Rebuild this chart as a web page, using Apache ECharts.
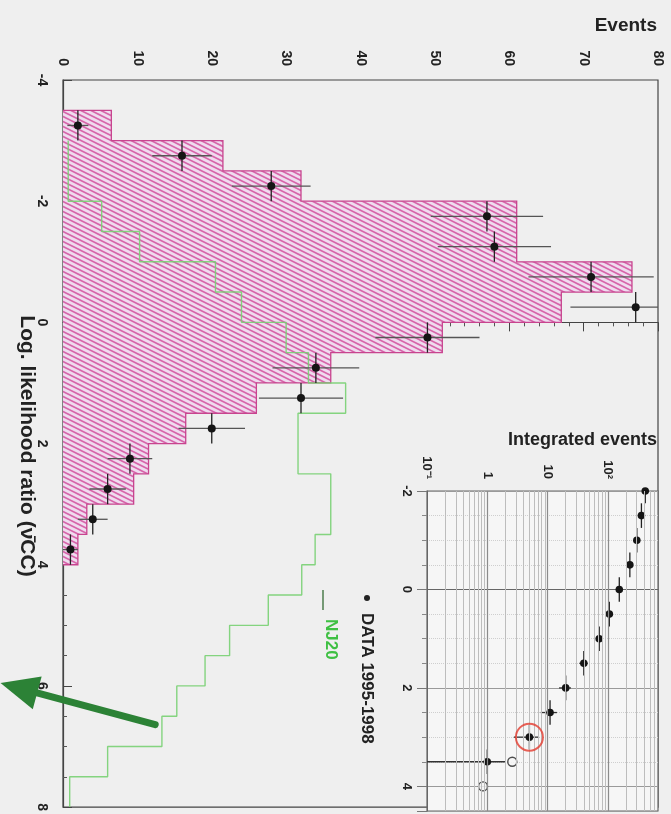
<!DOCTYPE html>
<html>
<head>
<meta charset="utf-8">
<script src="https://cdn.jsdelivr.net/npm/echarts@6/dist/echarts.min.js"></script>
<style>
  html, body { margin: 0; padding: 0; background: #efefef; }
  #chart { width: 671px; height: 814px; }
</style>
</head>
<body>
<div id="chart"></div>
<script>
// ---- histogram data (log-likelihood-ratio bins, width 0.5) ----
const BIN = 0.5;
const lrCentres   = [-3.25, -2.75, -2.25, -1.75, -1.25, -0.75, -0.25, 0.25, 0.75, 1.25, 1.75, 2.25, 2.75, 3.25, 3.75];
const dataEvents  = [2, 16, 28, 57, 58, 71, 77, 49, 34, 32, 20, 9, 6, 4, 1];
const ccPredicted = [6.5, 21.5, 32, 61, 61, 76.5, 67, 51, 36, 26, 16.5, 11.5, 9.5, 3.2, 2.0];

// NJ20 prediction, its own bins from -3 to 8
const nj20Centres = [-2.75, -2.25, -1.75, -1.25, -0.75, -0.25, 0.25, 0.75, 1.25, 1.75, 2.25,
                     2.75, 3.25, 3.75, 4.25, 4.75, 5.25, 5.75, 6.25, 6.75, 7.25, 7.75];
const nj20Events  = [0.7, 0.7, 5.2, 10.3, 20.5, 24, 30, 33, 38, 31.6, 31.6,
                     36, 36, 33.9, 32.1, 27.6, 22.4, 19.1, 15.3, 13.3, 6.0, 0.9];

// ---- integrated events (inset) ----
const cutValues        = [-2, -1.5, -1, -0.5, 0, 0.5, 1, 1.5, 2, 2.5, 3, 3.5];
const integratedEvents = [418, 361, 303, 232, 155, 106, 72, 40, 20, 11, 5, 1];
const openCuts         = [3.5, 4];
const openValues       = [2.6, 0.85];
const circledCut       = 3;

// ---- axis ticks ----
const eventTicks    = [0, 10, 20, 30, 40, 50, 60, 70, 80];
const lrTicks       = [-4, -2, 0, 2, 4, 6, 8];
const insetLrTicks  = [-2, 0, 2, 4];
const insetDecades  = { '-1': '10⁻¹', '0': '1', '1': '10', '2': '10²' };
const insetMaxEvents = 680;

// annotation arrow, in (events, log-likelihood) coordinates
const arrowTail = [12.4, 6.64];
const arrowTip  = [-8.4, 5.95];

const FONT = "'Liberation Sans', Arial, sans-serif";
const EV_MAX = eventTicks[eventTicks.length - 1];

// diagonal hatch used for the CC prediction
const hatch = (() => {
  const c = document.createElement('canvas');
  c.width = 20; c.height = 10;
  const g = c.getContext('2d');
  g.fillStyle = '#efdcef';
  g.fillRect(0, 0, 20, 10);
  g.strokeStyle = '#d765aa';
  g.lineWidth = 1.6;
  for (let k = -4; k <= 4; k++) {
    g.beginPath();
    g.moveTo(-20, -10 + k * 5);
    g.lineTo(40, 20 + k * 5);
    g.stroke();
  }
  return c;
})();

// step outline for the NJ20 curve
const nj20Line = [];
nj20Centres.forEach((c, i) => {
  nj20Line.push([nj20Events[i], c - BIN / 2]);
  nj20Line.push([nj20Events[i], c + BIN / 2]);
});

// vertical grid lines of the logarithmic inset axis
const insetGridX = [];
for (let k = -1; k <= 2; k++) {
  for (let m = 1; m <= 9; m++) {
    const v = m * Math.pow(10, k);
    if (v > 0.1 && v < insetMaxEvents) insetGridX.push({ xAxis: v, major: m === 1 });
  }
}

const axisText = { color: '#222', fontFamily: FONT, fontWeight: 'bold', fontSize: 14 };

const chart = echarts.init(document.getElementById('chart'), null, { renderer: 'canvas' });

// fixed texts and legend
const textGraphics = [
  { id: 'tEvents', type: 'text', x: 657, y: 26, style: { text: 'Events', align: 'right', verticalAlign: 'middle',
    fill: '#222', font: 'bold 19px ' + FONT } },
  { id: 'tIntegrated', type: 'text', x: 657, y: 440, style: { text: 'Integrated events', align: 'right', verticalAlign: 'middle',
    fill: '#222', font: 'bold 18px ' + FONT } },
  { id: 'tLr', type: 'text', x: 27, y: 446, rotation: -Math.PI / 2,
    style: { text: 'Log. likelihood ratio (ν̄CC)', align: 'center', verticalAlign: 'middle',
    fill: '#222', font: 'bold 21px ' + FONT } },
  { id: 'legDot', type: 'circle', shape: { cx: 367, cy: 598, r: 3 }, style: { fill: '#222' } },
  { id: 'legData', type: 'text', x: 367, y: 613, rotation: -Math.PI / 2,
    style: { text: 'DATA 1995-1998', align: 'left', verticalAlign: 'middle', fill: '#222', font: 'bold 17px ' + FONT } },
  { id: 'legLine', type: 'line', shape: { x1: 323, y1: 590, x2: 323, y2: 610 }, style: { stroke: '#4d7c4d', lineWidth: 1.5 } },
  { id: 'legNj', type: 'text', x: 331, y: 619, rotation: -Math.PI / 2,
    style: { text: 'NJ20', align: 'left', verticalAlign: 'middle', fill: '#3fc043', font: 'bold 17px ' + FONT } }
];

chart.setOption({
  backgroundColor: '#efefef',
  animation: false,
  grid: [
    { left: 63, top: 80, width: 595, height: 731, show: true, borderColor: '#444', borderWidth: 1.2, backgroundColor: 'transparent' },
    { left: 427, top: 491, width: 231, height: 320, show: true, borderColor: '#666', borderWidth: 1.2, backgroundColor: '#f6f6f6' }
  ],
  xAxis: [
    {
      gridIndex: 0, type: 'value', position: 'top',
      min: eventTicks[0], max: EV_MAX, interval: eventTicks[1] - eventTicks[0],
      axisLine: { show: true, lineStyle: { color: '#444', width: 1.2 } },
      axisTick: { show: true, inside: true, length: 9, lineStyle: { color: '#444' } },
      minorTick: { show: true, splitNumber: 5, length: 4, lineStyle: { color: '#555' } },
      axisLabel: Object.assign({ rotate: -90, margin: 14 }, axisText),
      splitLine: { show: false }
    },
    {
      gridIndex: 1, type: 'log', logBase: 10, position: 'top',
      min: 0.1, max: insetMaxEvents,
      axisLine: { show: true, lineStyle: { color: '#666' } },
      axisTick: { show: true, inside: true, length: 6, lineStyle: { color: '#666' } },
      axisLabel: {
        rotate: -90, margin: 12, fontSize: 13, showMaxLabel: false,
        color: '#222', fontFamily: FONT, fontWeight: 'bold',
        formatter: v => insetDecades[String(Math.round(Math.log10(v)))] || ''
      },
      splitLine: { show: false }
    }
  ],
  yAxis: [
    {
      gridIndex: 0, type: 'value', inverse: true,
      min: lrTicks[0], max: lrTicks[lrTicks.length - 1], interval: lrTicks[1] - lrTicks[0],
      axisLine: { show: true, lineStyle: { color: '#444', width: 1.2 } },
      axisTick: { show: true, inside: true, length: 9, lineStyle: { color: '#444' } },
      minorTick: { show: true, splitNumber: 4, length: 4, lineStyle: { color: '#555' } },
      axisLabel: Object.assign({ rotate: -90, margin: 14 }, axisText),
      splitLine: { show: false }
    },
    {
      gridIndex: 1, type: 'value', inverse: true,
      min: insetLrTicks[0], max: 4.5, interval: insetLrTicks[1] - insetLrTicks[0],
      axisLine: { show: true, lineStyle: { color: '#666' } },
      axisTick: { show: true, inside: false, length: 10, lineStyle: { color: '#777' } },
      minorTick: { show: true, splitNumber: 4, length: 5, lineStyle: { color: '#888' } },
      axisLabel: { rotate: -90, margin: 14, color: '#222', fontFamily: FONT, fontWeight: 'bold', fontSize: 13,
        showMaxLabel: false, formatter: v => (insetLrTicks.indexOf(v) >= 0 ? String(v) : '') },
      splitLine: { show: true, lineStyle: { color: '#9a9a9a', width: 1.2 } },
      minorSplitLine: { show: true, lineStyle: { color: '#cfcfcf', type: 'dotted' } }
    }
  ],
  series: [
    // CC prediction: hatched step histogram
    {
      type: 'custom', xAxisIndex: 0, yAxisIndex: 0, silent: true, z: 2,
      data: [[0, 0]],
      renderItem: (params, api) => {
        const outline = [];
        lrCentres.forEach((c, i) => {
          outline.push(api.coord([ccPredicted[i], c - BIN / 2]));
          outline.push(api.coord([ccPredicted[i], c + BIN / 2]));
        });
        const first = api.coord([0, lrCentres[0] - BIN / 2]);
        const last = api.coord([0, lrCentres[lrCentres.length - 1] + BIN / 2]);
        const poly = [first].concat(outline, [last]);
        return {
          type: 'group',
          children: [
            { type: 'polygon', shape: { points: poly },
              style: { fill: { type: 'pattern', image: hatch, repeat: 'repeat' } } },
            { type: 'polyline', shape: { points: poly },
              style: { fill: null, stroke: '#c8448f', lineWidth: 1.3 } }
          ]
        };
      }
    },
    // NJ20 prediction
    {
      type: 'line', xAxisIndex: 0, yAxisIndex: 0, silent: true, z: 3,
      data: nj20Line, showSymbol: false, symbol: 'none',
      lineStyle: { color: '#78d072', width: 1.4, opacity: 0.9 }
    },
    // data points with error bars
    {
      type: 'custom', xAxisIndex: 0, yAxisIndex: 0, silent: true, z: 4,
      data: dataEvents.map((n, i) => [n, lrCentres[i]]),
      renderItem: (params, api) => {
        const n = api.value(0), c = api.value(1), e = Math.sqrt(n);
        const pc = api.coord([n, c]);
        const pl = api.coord([Math.max(n - e, 0), c]), pr = api.coord([Math.min(n + e, EV_MAX), c]);
        const pt = api.coord([n, c - BIN / 2]), pb = api.coord([n, c + BIN / 2]);
        return {
          type: 'group',
          children: [
            { type: 'line', shape: { x1: pl[0], y1: pl[1], x2: pr[0], y2: pr[1] }, style: { stroke: '#555', lineWidth: 1.3 } },
            { type: 'line', shape: { x1: pt[0], y1: pt[1], x2: pb[0], y2: pb[1] }, style: { stroke: '#222', lineWidth: 1.3 } },
            { type: 'circle', shape: { cx: pc[0], cy: pc[1], r: 4 }, style: { fill: '#151515' } }
          ]
        };
      }
    },
    // inset: integrated data points
    {
      type: 'custom', xAxisIndex: 1, yAxisIndex: 1, silent: true, z: 4,
      data: integratedEvents.map((n, i) => [n, cutValues[i]]),
      renderItem: (params, api) => {
        const n = api.value(0), c = api.value(1), e = Math.sqrt(n);
        const pc = api.coord([n, c]);
        const pl = api.coord([Math.max(n - e, 0.1), c]), pr = api.coord([Math.min(n + e, insetMaxEvents), c]);
        const pt = api.coord([n, Math.max(c - 0.25, insetLrTicks[0])]), pb = api.coord([n, c + 0.25]);
        return {
          type: 'group',
          children: [
            { type: 'line', shape: { x1: pl[0], y1: pl[1], x2: pr[0], y2: pr[1] }, style: { stroke: '#333', lineWidth: 1.3 } },
            { type: 'line', shape: { x1: pt[0], y1: pt[1], x2: pb[0], y2: pb[1] }, style: { stroke: '#222', lineWidth: 1.3 } },
            { type: 'circle', shape: { cx: pc[0], cy: pc[1], r: 3.8 }, style: { fill: '#151515' } }
          ]
        };
      }
    },
    // inset: open markers, also carries the log grid
    {
      type: 'scatter', xAxisIndex: 1, yAxisIndex: 1, silent: true, z: 4,
      data: openValues.map((v, i) => [v, openCuts[i]]),
      symbol: 'circle', symbolSize: 9,
      itemStyle: { color: '#f6f6f6', borderColor: '#222', borderWidth: 1.4 },
      markLine: {
        silent: true, symbol: ['none', 'none'], label: { show: false }, animation: false,
        data: insetGridX.map(g => ({
          xAxis: g.xAxis,
          lineStyle: { color: g.major ? '#8c8c8c' : '#bdbdbd', width: g.major ? 1.2 : 1, type: 'solid' }
        }))
      }
    },
    // inset: highlighted cut
    {
      type: 'scatter', xAxisIndex: 1, yAxisIndex: 1, silent: true, z: 5,
      data: [[integratedEvents[cutValues.indexOf(circledCut)], circledCut]],
      symbol: 'circle', symbolSize: 27,
      itemStyle: { color: 'rgba(0,0,0,0)', borderColor: '#e33b2e', borderWidth: 2 }
    }
  ],
  graphic: textGraphics
});

// annotation arrow placed in data coordinates
const t = chart.convertToPixel({ gridIndex: 0 }, arrowTail);
const h = chart.convertToPixel({ gridIndex: 0 }, arrowTip);
const dx = h[0] - t[0], dy = h[1] - t[1];
const len = Math.hypot(dx, dy);
const ux = dx / len, uy = dy / len;
const headLen = 38, headHalf = 17;
const bx = h[0] - ux * headLen, by = h[1] - uy * headLen;
chart.setOption({
  graphic: textGraphics.concat([
    { id: 'arrowShaft', type: 'line', z: 20, shape: { x1: t[0], y1: t[1], x2: bx + ux * 4, y2: by + uy * 4 },
      style: { stroke: '#2c8236', lineWidth: 7, lineCap: 'round' } },
    { id: 'arrowHead', type: 'polygon', z: 20,
      shape: { points: [h, [bx - uy * headHalf, by + ux * headHalf], [bx + uy * headHalf, by - ux * headHalf]] },
      style: { fill: '#2c8236' } }
  ])
});
</script>
</body>
</html>
